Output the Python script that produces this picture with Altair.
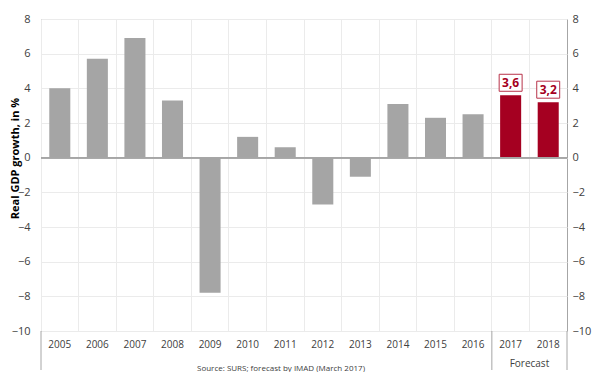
import altair as alt
import pandas as pd

years = ["2005", "2006", "2007", "2008", "2009", "2010", "2011",
         "2012", "2013", "2014", "2015", "2016", "2017", "2018"]
growth = [4.0, 5.7, 6.9, 3.3, -7.8, 1.2, 0.6, -2.7, -1.1, 3.1, 2.3, 2.5, 3.6, 3.2]
period = ["Actual"] * 12 + ["Forecast"] * 2
forecast_years = ["2017", "2018"]
forecast_values = [3.6, 3.2]
forecast_labels = ["3,6", "3,2"]
y_ticks = [-10, -8, -6, -4, -2, 0, 2, 4, 6, 8]

FONT = "Open Sans"
GRAY = "#a5a5a5"
RED = "#a50021"
LINE = "#a6a6a6"

df = pd.DataFrame({"year": years, "growth": growth, "period": period})
df_fc = pd.DataFrame({"year": forecast_years, "growth": forecast_values, "label": forecast_labels})

yscale = alt.Scale(domain=[-10, 8], nice=False)
xscale = alt.Scale(paddingInner=0, paddingOuter=0)

bars = alt.Chart(df).mark_bar(width={"band": 0.56}).encode(
    x=alt.X("year:N", sort=years, scale=xscale,
            axis=alt.Axis(title=None, labelAngle=0, grid=True, bandPosition=0,
                          gridColor="#ebebeb", ticks=False, domain=False,
                          labelPadding=8, labelFontSize=10, labelColor="#404040",
                          labelFont=FONT)),
    y=alt.Y("growth:Q", scale=yscale,
            axis=alt.Axis(values=y_ticks, grid=True, gridColor="#ebebeb",
                          domain=False, ticks=False, labelPadding=11,
                          labelFontSize=11, labelColor="#404040", labelFont=FONT,
                          title="Real GDP growth, in %", titleFont=FONT,
                          titleFontSize=11, titleFontWeight="bold",
                          titleColor="#000000", titleX=-26, titleY=139,
                          titleAngle=270, titleAlign="center",
                          titleBaseline="middle")),
    color=alt.Color("period:N", scale=alt.Scale(domain=["Actual", "Forecast"],
                                                range=[GRAY, RED]), legend=None),
)

zero = alt.Chart(df).transform_calculate(zero="0").mark_rule(color=LINE, strokeWidth=1).encode(
    y=alt.Y("zero:Q", scale=yscale,
            axis=alt.Axis(orient="right", values=y_ticks, grid=False, domain=False,
                          ticks=False, labelPadding=5, labelFontSize=11,
                          labelColor="#404040", labelFont=FONT, title=None)),
)

boxes = alt.Chart(df_fc).mark_point(
    shape="M-1.35,-1L1.35,-1L1.35,1L-1.35,1Z", size=289, filled=True,
    fill="white", stroke="#b8334a", strokeWidth=1, opacity=1, yOffset=-12.5,
).encode(
    x=alt.X("year:N", sort=years),
    y=alt.Y("growth:Q", axis=None),
)

labels = alt.Chart(df_fc).mark_text(
    font=FONT, fontSize=12, fontWeight="bold", color=RED, yOffset=-12.5,
    baseline="middle",
).encode(
    x=alt.X("year:N", sort=years),
    y=alt.Y("growth:Q", axis=None),
    text="label:N",
)

sep_start = alt.Chart(pd.DataFrame({"year": ["2005", "2017"]})).mark_rule(color=LINE).encode(
    x=alt.X("year:N", sort=years, bandPosition=0),
    y=alt.value(312), y2=alt.value(351),
)
sep_end = alt.Chart(pd.DataFrame({"year": ["2018"]})).mark_rule(color=LINE).encode(
    x=alt.X("year:N", sort=years, bandPosition=1),
    y=alt.value(312), y2=alt.value(351),
)

fc_text = alt.Chart(pd.DataFrame({"year": ["2017"], "t": ["Forecast"]})).mark_text(
    font=FONT, fontSize=10, color="#404040", baseline="middle",
).encode(
    x=alt.X("year:N", sort=years, bandPosition=1),
    y=alt.value(345),
    text="t:N",
)

src_text = alt.Chart(pd.DataFrame({"t": ["Source: SURS; forecast by IMAD (March 2017)"]})).mark_text(
    font=FONT, fontSize=8, color="#404040", baseline="middle", align="center",
).encode(
    x=alt.value(240), y=alt.value(350), text="t:N",
)

chart = alt.layer(bars, zero, boxes, labels, sep_start, sep_end, fc_text, src_text).resolve_axis(
    y="independent"
).properties(
    width=526, height=312,
    autosize=alt.AutoSizeParams(type="none"),
    padding={"left": 33, "top": 11, "right": 25, "bottom": 41},
).configure_view(stroke=LINE, strokeWidth=1)

chart.save("out.html", embed_options={"renderer": "svg", "actions": False})
